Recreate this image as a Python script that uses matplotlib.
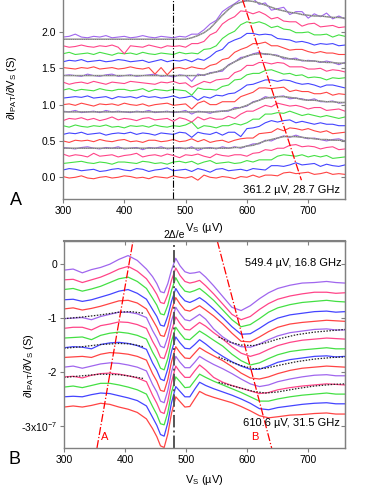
import numpy as np
import matplotlib
matplotlib.use("Agg")
import matplotlib.pyplot as plt

plt.rcParams['font.family'] = ['Liberation Sans', 'DejaVu Sans']
plt.rcParams['mathtext.fontset'] = 'custom'
plt.rcParams['mathtext.rm'] = 'Liberation Sans'
plt.rcParams['axes.unicode_minus'] = False

RED, BLUE, GREEN, PINK, PURPLE = '#ff4444', '#4444ff', '#44e044', '#ff4488', '#a066ee'

# ---- panel A: traces in 0.01 S units, relative to their offsets
a_volts = np.arange(300, 761, 10)
a_offsets = [0.0, 0.1, 0.2, 0.3, 0.4, 0.5, 0.6, 0.7, 0.8, 0.9,
             1.0, 1.1, 1.2, 1.3, 1.4, 1.5, 1.6, 1.7, 1.8, 1.9]
a_colors = [RED, BLUE, GREEN, PINK, PURPLE] * 4
a_traces = [
    [1,-1,0,2,-1,-2,0,1,-1,0, 2,1,-1,0,-2,1,0,-1,2,0, -1,1,-4,3,0,-1,1,0,-2,1, 0,3,0,3,3,2,6,7,5,6, 7,4,5,7,4,5,4],
    [0,2,1,-1,0,1,-2,-1,1,2, 0,-1,2,1,-2,0,1,3,-1,0, 1,-2,2,0,-3,1,2,-1,0,1, -1,2,1,0,6,6,5,7,10,7, 8,9,5,8,6,5,7],
    [-1,0,1,2,0,-1,1,0,-2,1, 1,0,-1,2,1,-1,0,-2,1,2, 0,2,-2,1,3,-1,0,1,-1,0, 3,1,4,4,4,9,11,10,9,11, 8,10,8,10,6,7,8],
    [2,-1,1,0,-2,3,-1,0,1,-2, 0,1,3,-2,0,1,-1,2,0,-3, 1,0,2,-1,-3,2,0,-1,1,1, -1,3,4,8,7,10,10,14,15,12, 13,12,9,11,12,8,9],
    [1,0,-1,1,2,0,-1,1,0,2, -1,0,1,-2,1,0,2,-1,0,1, -1,2,-3,0,1,-1,2,0,2,0, 3,6,6,11,10,14,17,15,18,15, 13,14,12,10,12,13,10],
    [0,-2,1,0,1,-1,2,0,-1,1, 2,-1,0,-2,1,1,-1,0,2,-1, 0,3,-1,2,-2,0,1,-2,1,3, 4,4,10,11,12,17,14,18,17,15, 17,14,12,14,10,11,12],
    [-1,1,0,2,-1,0,1,-2,0,1, 0,2,-1,1,0,-2,1,0,-1,2, 1,-5,2,0,-1,2,-2,2,2,-4, 7,8,10,15,18,16,18,19,15,17, 15,13,15,13,13,11,11],
    [1,-1,2,0,-1,1,0,2,-1,0, -2,1,0,1,-1,2,0,-1,1,0, 2,6,-3,1,0,-2,1,1,4,2, 5,10,10,17,17,19,18,21,18,15, 17,15,13,15,13,11,13],
    [-2,1,0,2,-1,1,-2,0,3,-1, 1,0,-2,1,2,-1,0,1,-3,2, 0,-4,3,-1,2,0,0,4,1,7, 11,11,15,19,17,22,20,18,19,17, 14,16,16,12,13,14,11],
    [1,0,2,-1,0,1,-1,2,0,1, 0,-1,1,0,2,-1,0,1,-1,0, 2,-3,1,0,-2,1,1,1,6,6, 8,14,16,21,19,21,22,18,19,18, 16,18,14,14,15,12,13],
    [0,1,-1,2,0,-2,1,0,1,-1, 2,0,-1,1,-2,0,1,2,-1,0, 1,-6,2,5,0,0,4,4,4,11, 14,17,23,23,22,23,24,18,20,18, 18,15,15,17,13,15,14],
    [-1,0,1,0,2,-1,0,1,-2,1, 0,1,-1,2,0,1,-1,0,2,-1, 0,2,-4,1,-1,3,2,5,6,11, 17,18,21,24,24,22,24,23,20,18, 19,17,14,17,17,15,13],
    [0,2,-1,1,0,-1,2,0,-1,1, 1,-1,0,2,-2,1,0,-1,1,0, -1,-7,3,1,1,0,5,7,14,15, 21,23,23,27,28,25,22,23,20,21, 17,18,17,14,17,16,17],
    [1,-2,0,1,-1,2,0,-2,1,0, -1,2,1,0,-1,-2,1,0,2,-1, 0,-6,-2,2,0,4,5,6,14,17, 24,24,28,28,26,28,27,22,22,22, 19,19,20,16,18,17,15],
    [0,1,0,-1,2,0,-1,1,2,-1, 0,1,-1,0,1,2,-1,0,-2,1, 0,-8,2,0,4,5,6,15,19,25, 26,30,32,29,29,28,23,23,24,20, 21,20,18,20,18,15,18],
    [1,0,-1,1,0,2,-1,0,1,-1, 0,2,0,-1,1,-8,1,-9,0,1, -1,2,0,-1,4,6,12,14,22,26, 29,34,34,36,31,31,28,25,26,26, 23,21,23,21,21,19,19],
    [-1,1,0,2,-1,0,1,-1,0,2, 1,-1,0,1,-2,0,2,-1,1,0, 2,-1,3,1,6,13,16,25,29,32, 38,38,36,37,36,31,30,29,26,27, 25,22,24,23,24,21,22],
    [0,2,-1,0,1,-1,2,0,-2,1, 0,1,-1,2,0,-1,1,0,-1,2, 0,1,0,6,7,11,21,27,31,40, 44,42,44,41,36,38,34,33,29,29, 30,26,26,27,23,26,24],
    [1,-1,0,2,0,-1,1,0,2,-1, -10,1,0,-1,2,0,-2,1,0,1, -1,4,4,7,16,20,31,37,41,49, 48,45,48,44,38,40,35,34,34,28, 31,32,27,28,29,26,27],
    [3,4,7,3,2,4,3,5,2,3, 4,2,3,5,3,2,4,3,2,4, 3,7,7,13,21,26,38,44,49,55, 53,56,48,50,40,42,44,34,38,38, 29,35,31,36,28,32,28],
]
# fitted curves drawn over the purple traces
a_fit_index = [4, 9, 14, 19]
a_fits = [
    [0] * 27 + [0,1,1,3,4,7,10,12,14,16,16,16,15,14,13,12,12,11,11,10],
    [0] * 25 + [0,1,2,4,6,9,13,16,19,20,21,21,20,19,17,16,16,15,14,14,13,13],
    [0] * 22 + [0,1,3,5,8,14,19,23,27,29,30,30,29,27,25,23,22,21,20,20,19,18,18,17,17],
    [0] * 20 + [0,2,5,9,15,24,33,41,48,51,53,52,50,47,44,41,39,37,36,34,33,32,32,31,30,30,29],
]
a_guide_x = [593, 689]
a_guide_y = [2.44, -0.04]

# ---- panel B: traces in units of 1e-7 S
b_volts = [300, 315, 330, 345, 360, 375, 390, 405, 420, 435,
           445, 452, 458, 464, 470, 476, 483, 490, 498, 506, 514, 522,
           532, 545, 560, 575, 590, 605, 620, 635, 650, 670, 690, 710, 730, 745, 760]
b_colors = [PURPLE, PINK, GREEN, BLUE, RED] * 3
b_traces = [
    [-0.11,-0.09,-0.16,-0.10,-0.06,0.00,0.09,0.16,0.07,-0.09,
     -0.23,-0.36,-0.51,-0.53,-0.36,-0.11,0.11,-0.03,-0.14,-0.17,-0.16,-0.14,
     -0.24,-0.40,-0.60,-0.80,-0.86,-0.77,-0.64,-0.53,-0.45,-0.39,-0.35,-0.34,-0.32,-0.34,-0.35],
    [-0.29,-0.28,-0.34,-0.29,-0.24,-0.17,-0.09,-0.04,-0.13,-0.27,
     -0.43,-0.56,-0.71,-0.73,-0.56,-0.30,-0.07,-0.21,-0.32,-0.35,-0.33,-0.30,
     -0.40,-0.55,-0.74,-0.93,-1.03,-0.97,-0.84,-0.73,-0.65,-0.59,-0.55,-0.52,-0.52,-0.54,-0.53],
    [-0.47,-0.45,-0.50,-0.46,-0.41,-0.34,-0.27,-0.24,-0.32,-0.45,
     -0.63,-0.76,-0.92,-0.94,-0.76,-0.49,-0.25,-0.39,-0.50,-0.52,-0.49,-0.45,
     -0.54,-0.67,-0.85,-1.03,-1.16,-1.12,-1.01,-0.89,-0.81,-0.75,-0.71,-0.69,-0.67,-0.69,-0.70],
    [-0.66,-0.65,-0.69,-0.66,-0.61,-0.56,-0.50,-0.47,-0.54,-0.65,
     -0.84,-0.97,-1.13,-1.15,-0.96,-0.69,-0.45,-0.58,-0.68,-0.71,-0.67,-0.62,
     -0.70,-0.83,-0.99,-1.16,-1.30,-1.29,-1.19,-1.08,-1.00,-0.94,-0.91,-0.88,-0.87,-0.89,-0.88],
    [-0.83,-0.81,-0.85,-0.82,-0.78,-0.73,-0.68,-0.67,-0.72,-0.83,
     -1.03,-1.17,-1.32,-1.34,-1.15,-0.86,-0.62,-0.74,-0.85,-0.87,-0.82,-0.77,
     -0.85,-0.96,-1.11,-1.28,-1.43,-1.44,-1.35,-1.25,-1.17,-1.11,-1.08,-1.06,-1.04,-1.05,-1.06],
    [-1.01,-1.00,-0.99,-1.03,-0.97,-0.93,-0.89,-0.89,-0.92,-0.99,
     -1.23,-1.37,-1.52,-1.55,-1.35,-1.05,-0.80,-0.92,-1.03,-1.05,-0.99,-0.93,
     -1.02,-1.20,-1.35,-1.46,-1.53,-1.54,-1.48,-1.40,-1.33,-1.27,-1.24,-1.21,-1.20,-1.22,-1.22],
    [-1.19,-1.17,-1.17,-1.22,-1.14,-1.11,-1.07,-1.08,-1.12,-1.19,
     -1.43,-1.57,-1.73,-1.75,-1.55,-1.24,-0.98,-1.10,-1.21,-1.22,-1.15,-1.08,
     -1.15,-1.27,-1.39,-1.53,-1.65,-1.71,-1.66,-1.58,-1.51,-1.45,-1.41,-1.39,-1.37,-1.38,-1.39],
    [-1.37,-1.36,-1.35,-1.40,-1.32,-1.28,-1.26,-1.28,-1.32,-1.39,
     -1.63,-1.77,-1.93,-1.96,-1.75,-1.43,-1.17,-1.28,-1.39,-1.40,-1.32,-1.24,
     -1.31,-1.41,-1.52,-1.67,-1.79,-1.87,-1.83,-1.75,-1.68,-1.62,-1.59,-1.57,-1.55,-1.57,-1.57],
    [-1.55,-1.53,-1.54,-1.57,-1.49,-1.46,-1.45,-1.47,-1.51,-1.58,
     -1.83,-1.97,-2.13,-2.16,-1.94,-1.62,-1.35,-1.46,-1.56,-1.57,-1.49,-1.40,
     -1.48,-1.60,-1.71,-1.81,-1.89,-1.95,-1.95,-1.89,-1.82,-1.77,-1.74,-1.71,-1.70,-1.72,-1.71],
    [-1.73,-1.72,-1.71,-1.73,-1.67,-1.64,-1.65,-1.67,-1.71,-1.78,
     -2.03,-2.17,-2.34,-2.36,-2.14,-1.81,-1.53,-1.64,-1.74,-1.75,-1.65,-1.55,
     -1.62,-1.70,-1.79,-1.90,-2.02,-2.11,-2.13,-2.09,-2.03,-1.97,-1.93,-1.91,-1.89,-1.90,-1.91],
    [-1.91,-1.89,-1.93,-1.89,-1.85,-1.83,-1.84,-1.87,-1.91,-1.98,
     -2.23,-2.37,-2.54,-2.57,-2.34,-2.00,-1.71,-1.82,-1.92,-1.92,-1.82,-1.71,
     -1.78,-1.86,-1.94,-2.03,-2.13,-2.22,-2.27,-2.24,-2.18,-2.13,-2.09,-2.06,-2.05,-2.07,-2.07],
    [-2.09,-2.08,-2.11,-2.06,-2.03,-2.02,-2.04,-2.07,-2.11,-2.18,
     -2.43,-2.58,-2.74,-2.77,-2.54,-2.19,-1.89,-2.00,-2.10,-2.10,-1.98,-1.87,
     -1.96,-2.10,-2.19,-2.25,-2.30,-2.35,-2.40,-2.38,-2.33,-2.29,-2.26,-2.24,-2.22,-2.23,-2.24],
    [-2.28,-2.26,-2.29,-2.25,-2.21,-2.21,-2.24,-2.28,-2.33,-2.41,
     -2.64,-2.79,-2.96,-2.98,-2.75,-2.38,-2.09,-2.18,-2.29,-2.28,-2.16,-2.04,
     -2.10,-2.17,-2.24,-2.31,-2.38,-2.46,-2.54,-2.54,-2.50,-2.46,-2.43,-2.41,-2.39,-2.41,-2.41],
    [-2.46,-2.45,-2.46,-2.42,-2.39,-2.40,-2.44,-2.48,-2.53,-2.63,
     -2.84,-2.99,-3.16,-3.19,-2.94,-2.57,-2.27,-2.36,-2.46,-2.46,-2.32,-2.19,
     -2.25,-2.31,-2.37,-2.43,-2.50,-2.58,-2.68,-2.70,-2.66,-2.63,-2.60,-2.58,-2.57,-2.59,-2.59],
    [-2.65,-2.63,-2.65,-2.62,-2.58,-2.60,-2.65,-2.69,-2.75,-2.87,
     -3.05,-3.20,-3.37,-3.40,-3.15,-2.77,-2.46,-2.55,-2.65,-2.64,-2.50,-2.36,
     -2.42,-2.47,-2.52,-2.57,-2.64,-2.72,-2.81,-2.85,-2.83,-2.80,-2.79,-2.77,-2.76,-2.78,-2.78],
]
# dotted fits on three of the traces
b_fit_left_x = [300, 330, 360, 390, 410, 430]
b_fit_left = [
    [-1.01, -0.98, -0.94, -0.89, -0.88, -0.91],
    [-1.56, -1.53, -1.49, -1.47, -1.48, -1.53],
    [-2.10, -2.07, -2.04, -2.05, -2.08, -2.12],
]
b_fit_right_x = [553, 570, 590, 610, 630, 650, 680, 710, 740, 760]
b_fit_right = [
    [-1.35, -1.44, -1.50, -1.51, -1.46, -1.39, -1.31, -1.26, -1.23, -1.21],
    [-1.72, -1.80, -1.88, -1.94, -1.93, -1.88, -1.81, -1.76, -1.73, -1.72],
    [-2.19, -2.24, -2.30, -2.36, -2.39, -2.37, -2.31, -2.26, -2.23, -2.22],
]
b_guide_a_x = [354, 413]
b_guide_b_x = [551, 640]
b_guide_a_y = [-3.41, 0.43]
b_guide_b_y = [0.43, -3.41]

SPINE = '#808080'


def style_axes(ax, yticks, ylabels, top_ticks):
    for s in ax.spines.values():
        s.set_color(SPINE)
        s.set_linewidth(1.0)
    ax.set_xlim(300, 760)
    ax.set_xticks([300, 400, 500, 600, 700])
    ax.set_yticks(yticks)
    ax.set_yticklabels(ylabels)
    ax.tick_params(direction='out', length=3, width=0.8, color=SPINE,
                   labelsize=7.5, pad=2)
    r = ax.secondary_yaxis('right')
    r.set_yticks(yticks)
    r.tick_params(direction='in', length=3, width=0.8, color=SPINE, labelright=False)
    r.spines['right'].set_color(SPINE)
    if top_ticks:
        t = ax.secondary_xaxis('top')
        t.set_xticks([400, 500, 600, 700])
        t.tick_params(direction='in', length=3, width=0.8, color=SPINE, labeltop=False)
        t.spines['top'].set_color(SPINE)
        t.spines['top'].set_linewidth(1.5)


fig = plt.figure(figsize=(3.82, 4.94), dpi=100)

# ---- A
axA = fig.add_axes([0.165, 0.597, 0.738, 0.403])
for off, col, tr in zip(a_offsets, a_colors, a_traces):
    axA.plot(a_volts, off + np.array(tr) / 100, color=col, lw=0.8)
for idx, fit in zip(a_fit_index, a_fits):
    y = a_offsets[idx] + np.array(fit) / 100
    axA.plot(a_volts, y, color='#7a7a7a', lw=1.0)
    axA.plot(a_volts, y, color='#d8d8d8', lw=0.5, ls=':')
axA.axvline(480, color='black', lw=0.8, ls='-.')
axA.plot(a_guide_x, a_guide_y, color='red', lw=0.9, ls='-.')
axA.set_ylim(-0.30, 2.44)
axA.spines['top'].set_visible(False)
style_axes(axA, [0.0, 0.5, 1.0, 1.5, 2.0], ['0.0', '0.5', '1.0', '1.5', '2.0'], False)
axA.set_xlabel('V$_{\\rm S}$ (µV)', fontsize=8, labelpad=1)
axA.xaxis.set_label_coords(0.5, -0.11)
axA.set_ylabel('∂I$_{\\rm PAT}$/∂V$_{\\rm S}$ (S)', fontsize=8)
axA.yaxis.set_label_coords(-0.155, 0.56)
axA.text(752, -0.18, '361.2 µV, 28.7 GHz', fontsize=8, ha='right', va='center')

# ---- B
axB = fig.add_axes([0.1675, 0.0931, 0.7355, 0.4190])
for col, tr in zip(b_colors, b_traces):
    axB.plot(b_volts, tr, color=col, lw=0.9)
for fl, fr in zip(b_fit_left, b_fit_right):
    axB.plot(b_fit_left_x, fl, color='#222222', lw=0.9, ls=(0, (1.2, 1.2)))
    axB.plot(b_fit_right_x, fr, color='#222222', lw=0.9, ls=(0, (1.2, 1.2)))
axB.axvline(480, color='#555555', lw=1.4, ls='-.')
axB.plot(b_guide_a_x, b_guide_a_y, color='red', lw=0.9, ls='-.')
axB.plot(b_guide_b_x, b_guide_b_y, color='red', lw=0.9, ls='-.')
axB.set_ylim(-3.41, 0.43)
style_axes(axB, [0, -1, -2, -3], ['0', '-1', '-2', '-3x10$^{-7}$'], True)
axB.set_xlabel('V$_{\\rm S}$ (µV)', fontsize=8)
axB.xaxis.set_label_coords(0.5, -0.12)
axB.set_ylabel('∂I$_{\\rm PAT}$/∂V$_{\\rm S}$ (S)', fontsize=8)
axB.yaxis.set_label_coords(-0.10, 0.40)
axB.text(755, 0.02, '549.4 µV, 16.8 GHz', fontsize=8, ha='right', va='center')
axB.text(752, -2.94, '610.6 µV, 31.5 GHz', fontsize=8, ha='right', va='center')
axB.text(480, 0.54, '2Δ/e', fontsize=7.5, ha='center', va='center', clip_on=False)
axB.text(367, -3.20, 'A', fontsize=8, color='red', ha='center', va='center')
axB.text(613, -3.20, 'B', fontsize=8, color='red', ha='center', va='center')

fig.text(0.042, 0.595, 'A', fontsize=13, ha='center', va='center')
fig.text(0.037, 0.069, 'B', fontsize=13, ha='center', va='center')

fig.savefig('out.png', dpi=100)
